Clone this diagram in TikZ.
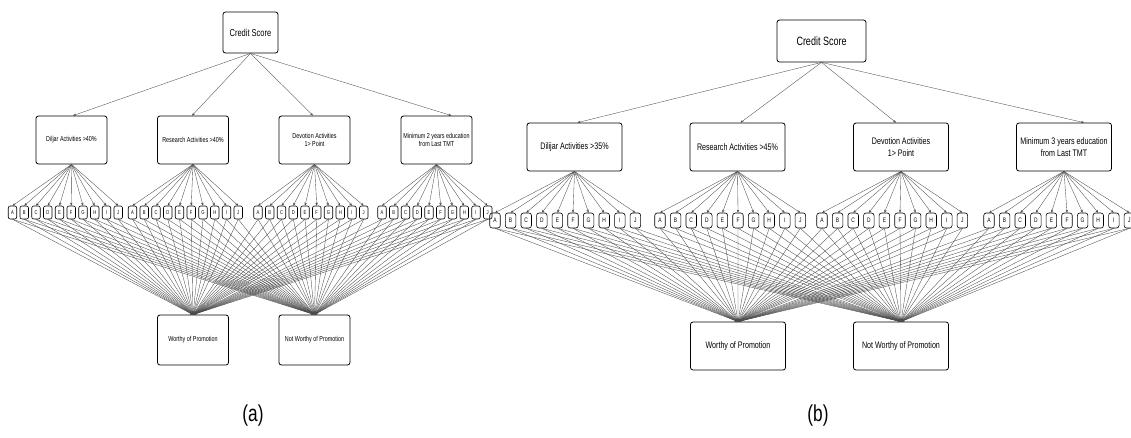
\documentclass[tikz,border=0pt]{standalone}
\usepackage{fontspec}
\setmainfont{Liberation Sans}[FakeStretch=0.75]
\usetikzlibrary{arrows.meta}
\tikzset{
  box/.style={draw=black, line width=0.8pt, rounded corners=2.5pt, inner sep=0pt, align=center},
  boxA/.style={box, minimum width=71pt, minimum height=48pt, font=\fontsize{7.2}{8.6}\selectfont},
  boxB/.style={box, minimum width=95pt, minimum height=48pt, font=\fontsize{9.5}{11.4}\selectfont},
  lettA/.style={draw=black, line width=0.6pt, rounded corners=2pt, minimum width=8.5pt, minimum height=13pt, inner sep=0pt, font=\fontsize{5.5}{6}\selectfont},
  lettB/.style={draw=black, line width=0.6pt, rounded corners=2.5pt, minimum width=10.5pt, minimum height=15pt, inner sep=0pt, font=\fontsize{6.5}{7}\selectfont},
  arr/.style={-{Stealth[length=3pt,width=2.4pt]}, draw=black!70, line width=0.35pt},
  lab/.style={font=\fontsize{23}{26}\selectfont}
}
\begin{document}
\begin{tikzpicture}[x=1pt,y=-1pt]
\useasboundingbox (0,0) rectangle (1131,437);
% ---------------- panel (a)
\node[box, minimum width=55pt, minimum height=41pt, font=\fontsize{10}{12}\selectfont] (aC) at (250.5,32.5) {Credit Score};
\node[boxA] (a1) at (71.5,140) {Diljar Activities >40\%};
\node[boxA] (a2) at (193,140) {Research Activities >40\%};
\node[boxA] (a3) at (314.5,140) {Devotion Activities\\1> Point};
\node[boxA] (a4) at (436.5,140) {Minimum 2 years education\\from Last TMT};
\node[boxA, minimum height=50pt] (aW) at (193,340) {Worthy of Promotion};
\node[boxA, minimum height=50pt] (aN) at (314.5,340) {Not Worthy of Promotion};
\node[lab] (aL) at (253,416) {(a)};
\draw[arr] (aC.south) -- ([xshift=1.5pt]a1.north);
\draw[arr] (aC.south) -- ([xshift=-1pt]a2.north);
\draw[arr] (aC.south) -- ([xshift=-1.5pt]a3.north);
\draw[arr] (aC.south) -- ([xshift=15pt]a4.north);
\foreach \g/\s in {1/12.5,2/132.5,3/258,4/382}{
  \foreach \L [count=\k from 0] in {A,B,C,D,E,F,G,H,I,J}{
    \node[lettA] (a\g\L) at ({\s+11.75*\k},212.5) {\L};
    \draw[arr] (a\g.south) -- (a\g\L.north);
    \draw[arr] (a\g\L.south) -- (aW.north);
    \draw[arr] (a\g\L.south) -- (aN.north);
  }
}
% ---------------- panel (b)
\node[box, minimum width=89pt, minimum height=42pt, font=\fontsize{12}{14}\selectfont] (bC) at (821.5,41) {Credit Score};
\node[boxB] (b1) at (574.5,147) {Dilijar Activities >35\%};
\node[boxB] (b2) at (737.5,147) {Research Activities >45\%};
\node[boxB] (b3) at (901,147) {Devotion Activities\\1> Point};
\node[boxB] (b4) at (1064,147) {Minimum 3 years education\\from Last TMT};
\node[boxB] (bW) at (738,346) {Worthy of Promotion};
\node[boxB] (bN) at (901,346) {Not Worthy of Promotion};
\node[lab] (bL) at (818,416) {(b)};
\draw[arr] (bC.south) -- ([xshift=3pt]b1.north);
\draw[arr] (bC.south) -- ([xshift=3pt]b2.north);
\draw[arr] (bC.south) -- ([xshift=-5pt]b3.north);
\draw[arr] (bC.south) -- ([xshift=20pt]b4.north);
\foreach \g/\s in {1/495,2/660,3/822,4/989}{
  \foreach \L [count=\k from 0] in {A,B,C,D,E,F,G,H,I,J}{
    \node[lettB] (b\g\L) at ({\s+15.6*\k},220.5) {\L};
    \draw[arr] (b\g.south) -- (b\g\L.north);
    \draw[arr] (b\g\L.south) -- (bW.north);
    \draw[arr] (b\g\L.south) -- (bN.north);
  }
}
\end{tikzpicture}
\end{document}
